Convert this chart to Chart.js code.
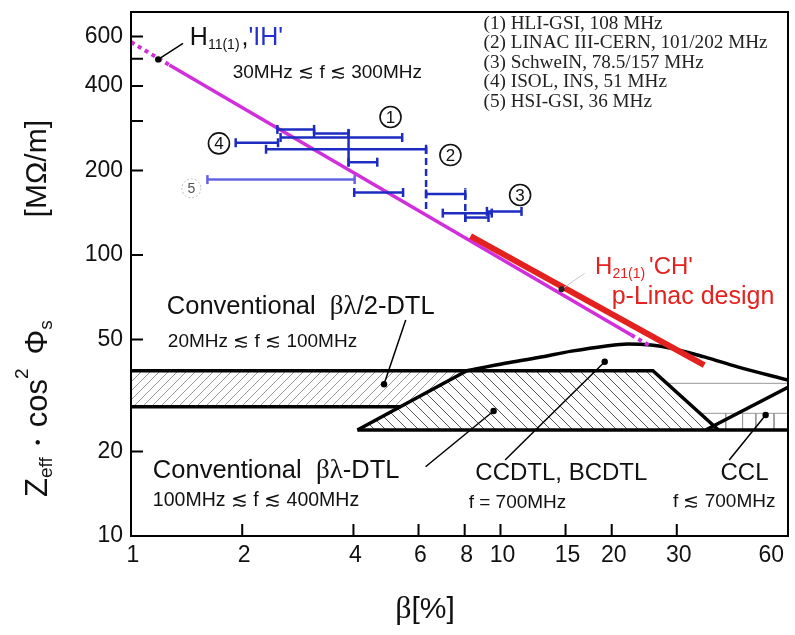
<!DOCTYPE html>
<html>
<head>
<meta charset="utf-8">
<script src="https://cdn.jsdelivr.net/npm/chart.js@4.4.1/dist/chart.umd.min.js"></script>
<style>
  html, body { margin: 0; padding: 0; background: #fff; }
</style>
</head>
<body>
<canvas id="chart" width="795" height="635"></canvas>
<script>
// axis ticks
const xTickValues = [1, 2, 4, 6, 8, 10, 15, 20, 30, 60];
const xTickLabels = ['1', '2', '4', '6', '8', '10', '15', '20', '30', '60'];
const yTickValues = [10, 20, 50, 100, 200, 300, 400, 500, 600];
const yTickLabels = ['10', '20', '50', '100', '200', '', '400', '', '600'];

// H11(1) 'IH' line: dotted start, solid part, dotted end (beta %, Z MOhm/m)
const ihStartBeta = [1.0, 1.27];
const ihStartZ = [573, 475];
const ihBeta = [1.27, 22.6];
const ihZ = [475, 51.9];
const ihEndBeta = [22.6, 25.6];
const ihEndZ = [51.9, 47.2];

// H21(1) 'CH' p-linac design
const chBeta = [8.3, 35.6];
const chZ = [116.8, 40.6];

// existing IH linacs, ranges in beta
const barBetaLo = [2.49, 3.13, 2.54, 1.92, 2.32, 3.88, 4.02, 6.29, 6.98, 8.03, 9.19];
const barBetaHi = [3.13, 3.88, 5.42, 2.50, 6.29, 4.64, 5.45, 8.03, 9.47, 9.28, 11.4];
const barZ      = [280, 271, 262, 251, 238, 214, 167, 165, 141, 136, 143];
const hsiBetaLo = [1.61];
const hsiBetaHi = [4.03];
const hsiZ = [185.6];
// vertical joins between sections
const joinBeta = [3.88, 6.29, 8.03];
const joinZLo = [207, 146, 131];
const joinZHi = [279, 244, 173];
const joinDashed = [false, true, true];

// conventional beta*lambda/2 DTL band
const halfDtlBeta = [1, 8.11, 5.37, 1];
const halfDtlZ = [38.75, 38.75, 28.85, 28.85];
// conventional beta*lambda DTL
const dtlBeta = [4.10, 8.11, 25.85, 38.9];
const dtlZ = [23.84, 38.75, 38.75, 23.84];
// CCDTL / BCDTL envelope
const ccdtlBeta = [8.11, 10.29, 12.66, 15.57, 19.15, 22.13, 25.57, 28.95, 35.63, 43.8, 60];
const ccdtlZ = [38.75, 41.2, 43.2, 45.5, 47.4, 48.2, 47.8, 46.6, 43.4, 40.0, 35.9];
// CCL lower edge and common base line
const cclBeta = [35.9, 60];
const cclZ = [23.84, 33.8];
const baseBeta = [4.10, 60];
const baseZ = [23.84, 23.84];
// CCL hatch
const cclHatchBeta = [[28.2, 60], [34.7, 60], [40.7, 40.7], [45.2, 45.2], [49.1, 49.1], [55.0, 55.0]];
const cclHatchZ = [[34.95, 34.95], [27.33, 27.33], [27.33, 23.84], [27.33, 23.84], [27.33, 23.84], [27.33, 23.84]];

// pointer lines, dot on first point
const leaderBeta = [[1.185, 1.383], [4.84, 5.54], [9.58, 6.27], [19.15, 10.29], [52.2, 41.6]];
const leaderZ = [[497, 567], [34.7, 58.7], [27.85, 17.64], [41.7, 18.64], [26.95, 18.64]];
const chLeaderBeta = [14.63, 16.9];
const chLeaderZ = [75.5, 86.1];

const SANS = '"Liberation Sans", Arial, sans-serif';
const SERIF = '"Liberation Serif", "Times New Roman", serif';
const MAGENTA = '#d22fdc';
const RED = '#e3221f';
const BLUE = '#1c2cc0';

const canvas = document.getElementById('chart');
const ctx0 = canvas.getContext('2d');

function hatch(dir, gap, color) {
  const c = document.createElement('canvas');
  c.width = gap; c.height = gap;
  const g = c.getContext('2d');
  g.strokeStyle = color; g.lineWidth = 1;
  g.beginPath();
  if (dir === '/') {
    g.moveTo(-1, gap + 1); g.lineTo(gap + 1, -1);
  } else {
    g.moveTo(-1, -1); g.lineTo(gap + 1, gap + 1);
  }
  g.stroke();
  return ctx0.createPattern(c, 'repeat');
}

function pts(b, z) { return b.map((v, i) => ({x: v, y: z[i]})); }
function seg(b, z, opts) {
  return Object.assign({
    data: pts(b, z), borderColor: '#000', borderWidth: 3.5, pointRadius: 0,
    fill: false, tension: 0
  }, opts);
}

const datasets = [];
// hatched areas
datasets.push(seg(halfDtlBeta, halfDtlZ, {fill: 'shape', backgroundColor: hatch('/', 9, '#999'), borderColor: 'rgba(0,0,0,0)', borderWidth: 0, order: 20}));
datasets.push(seg(dtlBeta, dtlZ, {fill: 'shape', backgroundColor: hatch('\\', 11, '#555'), borderColor: 'rgba(0,0,0,0)', borderWidth: 0, order: 20}));
cclHatchBeta.forEach((b, i) => datasets.push(seg(b, cclHatchZ[i], {borderColor: '#999', borderWidth: 1, order: 15})));
// outlines
datasets.push(seg([1, 8.11], [38.75, 38.75], {order: 10}));
datasets.push(seg([1, 5.37], [28.85, 28.85], {order: 10}));
datasets.push(seg(dtlBeta, dtlZ, {order: 10}));
datasets.push(seg(baseBeta, baseZ, {order: 10}));
datasets.push(seg(ccdtlBeta, ccdtlZ, {order: 10, cubicInterpolationMode: 'monotone'}));
datasets.push(seg(cclBeta, cclZ, {order: 10}));
// IH and CH lines
datasets.push(seg(ihStartBeta, ihStartZ, {borderColor: MAGENTA, borderWidth: 4, borderDash: [4, 4], order: 4}));
datasets.push(seg(ihBeta, ihZ, {borderColor: MAGENTA, borderWidth: 3.5, order: 4}));
datasets.push(seg(ihEndBeta, ihEndZ, {borderColor: MAGENTA, borderWidth: 4, borderDash: [4, 4], order: 4}));
datasets.push(seg(chBeta, chZ, {borderColor: RED, borderWidth: 6, order: 3}));
// cavity ranges
const capOpts = {pointStyle: 'line', rotation: 90, pointRadius: 4.5, pointBorderWidth: 2.5, borderWidth: 2.5, order: 2};
barZ.forEach((z, i) => datasets.push(seg([barBetaLo[i], barBetaHi[i]], [z, z],
  Object.assign({borderColor: BLUE, pointBorderColor: BLUE}, capOpts))));
hsiZ.forEach((z, i) => datasets.push(seg([hsiBetaLo[i], hsiBetaHi[i]], [z, z],
  Object.assign({borderColor: '#6464e0', pointBorderColor: '#6464e0'}, capOpts))));
joinBeta.forEach((b, i) => datasets.push(seg([b, b], [joinZLo[i], joinZHi[i]],
  {borderColor: BLUE, borderWidth: 2.5, borderDash: joinDashed[i] ? [7, 4] : [], order: 2})));
// pointers
leaderBeta.forEach((b, i) => datasets.push(seg(b, leaderZ[i], {borderWidth: 1.5, pointRadius: [3.2, 0], pointBackgroundColor: '#000', pointBorderWidth: 0, order: 1})));
datasets.push(seg(chLeaderBeta, chLeaderZ, {borderColor: '#c9c9c9', borderWidth: 1, pointRadius: [3, 0], pointBackgroundColor: '#222', pointBorderWidth: 0, order: 1}));

// text notes (placed in data coordinates)
function F(size, fam) { return size + 'px ' + (fam || SANS); }
const notes = [
  {b: 1.443, z: 592, runs: [{t: 'H', f: F(25)}, {t: '11(1)', f: F(14), dy: 7, gap: 2}, {t: ",", f: F(25)}, {t: "'IH'", f: F(25), c: '#2530cc'}]},
  {b: 1.884, z: 444, runs: [{t: '30MHz \u2272 f \u2272 300MHz', f: F(19)}]},
  {b: 18.03, z: 90.6, runs: [{t: 'H', f: F(24), c: RED}, {t: '21(1)', f: F(14), dy: 7, c: RED, gap: 4}, {t: "'CH'", f: F(24), c: RED}]},
  {b: 55.1, z: 71.1, align: 'right', runs: [{t: 'p-Linac design', f: F(25), c: RED}]},
  {b: 1.25, z: 65.5, runs: [{t: 'Conventional  ', f: F(25.5)}, {t: '\u03b2\u03bb', f: F(27, SERIF)}, {t: '/2-DTL', f: F(25.5)}]},
  {b: 1.258, z: 49.1, runs: [{t: '20MHz \u2272 f \u2272 100MHz', f: F(19)}]},
  {b: 1.146, z: 17.03, runs: [{t: 'Conventional  ', f: F(25.5)}, {t: '\u03b2\u03bb', f: F(27, SERIF)}, {t: '-DTL', f: F(25.5)}]},
  {b: 1.146, z: 13.32, runs: [{t: '100MHz \u2272 f \u2272 400MHz', f: F(19.5)}]},
  {b: 8.55, z: 16.75, runs: [{t: 'CCDTL, BCDTL', f: F(24)}]},
  {b: 8.2, z: 13.1, runs: [{t: 'f = 700MHz', f: F(19)}]},
  {b: 39.4, z: 16.75, runs: [{t: 'CCL', f: F(24)}]},
  {b: 55.5, z: 13.2, align: 'right', runs: [{t: 'f \u2272 700MHz', f: F(19)}]}
];
const legendLines = ['(1) HLI-GSI, 108 MHz', '(2) LINAC III-CERN, 101/202 MHz', '(3) SchweIN, 78.5/157 MHz',
  '(4) ISOL, INS, 51 MHz', '(5) HSI-GSI, 36 MHz'];
const circles = [
  {b: 5.04, z: 310, t: '1'}, {b: 7.32, z: 227, t: '2'}, {b: 11.3, z: 163.6, t: '3'},
  {b: 1.73, z: 249.7, t: '4'}, {b: 1.457, z: 172.7, t: '5', faint: true}
];

function drawRuns(ctx, runs, x, y, align) {
  let w = 0;
  runs.forEach(r => { ctx.font = r.f; w += ctx.measureText(r.t).width + (r.gap || 0); });
  let cx = align === 'right' ? x - w : (align === 'center' ? x - w / 2 : x);
  runs.forEach(r => {
    ctx.font = r.f;
    ctx.fillStyle = r.c || '#111';
    ctx.fillText(r.t, cx, y + (r.dy || 0));
    cx += ctx.measureText(r.t).width + (r.gap || 0);
  });
}

const overlay = {
  id: 'overlay',
  afterDatasetsDraw(chart) {
    const {ctx, chartArea: a, scales: {x, y}} = chart;
    ctx.save();
    ctx.strokeStyle = '#000';
    ctx.lineWidth = 2;
    ctx.strokeRect(a.left, a.top, a.right - a.left, a.bottom - a.top);
    // inner ticks
    ctx.beginPath();
    y.ticks.forEach(t => {
      const py = y.getPixelForValue(t.value);
      ctx.moveTo(a.left, py); ctx.lineTo(a.left + 12, py);
    });
    x.ticks.forEach(t => {
      if (t.value <= 1 || t.value >= 60) return;
      const px = x.getPixelForValue(t.value);
      ctx.moveTo(px, a.bottom); ctx.lineTo(px, a.bottom - 12);
    });
    ctx.stroke();
    // tick labels
    ctx.fillStyle = '#111';
    ctx.font = F(23);
    ctx.textBaseline = 'middle';
    ctx.textAlign = 'right';
    y.ticks.forEach(t => {
      const lab = yTickLabels[yTickValues.indexOf(t.value)];
      ctx.fillText(lab, a.left - 8, y.getPixelForValue(t.value));
    });
    x.ticks.forEach(t => {
      const lab = xTickLabels[xTickValues.indexOf(t.value)];
      const px = x.getPixelForValue(t.value);
      if (t.value >= 60) { ctx.textAlign = 'right'; ctx.fillText(lab, a.right - 4, a.bottom + 20); }
      else { ctx.textAlign = 'center'; ctx.fillText(lab, px + 2, a.bottom + 20); }
    });
    // axis titles
    ctx.textAlign = 'left';
    drawRuns(ctx, [{t: '\u03b2', f: F(32, SERIF)}, {t: '[%]', f: F(30)}], 425, 610, 'center');
    ctx.save();
    ctx.translate(38, 497);
    ctx.rotate(-Math.PI / 2);
    drawRuns(ctx, [
      {t: 'Z', f: F(31)}, {t: 'eff', f: F(19), dy: 9, gap: 12},
      {t: '\u2022', f: F(17), gap: 12},
      {t: 'cos', f: F(31)}, {t: '2', f: F(19), dy: -15, gap: 14},
      {t: '\u03a6', f: F(31)}, {t: 's', f: F(19), dy: 9}
    ], 0, 0, 'left');
    drawRuns(ctx, [{t: '[M\u03a9/m]', f: F(30)}], 377, 0, 'right');
    ctx.restore();
    // notes
    notes.forEach(n => drawRuns(ctx, n.runs, x.getPixelForValue(n.b), y.getPixelForValue(n.z), n.align || 'left'));
    // legend box text
    ctx.font = F(19.2, SERIF);
    ctx.fillStyle = '#222';
    const lx = x.getPixelForValue(9.0), ly = y.getPixelForValue(665);
    legendLines.forEach((s, i) => ctx.fillText(s, lx, ly + i * 19.5));
    // circled numbers
    circles.forEach(c => {
      const px = x.getPixelForValue(c.b), py = y.getPixelForValue(c.z);
      ctx.beginPath();
      ctx.arc(px, py, c.faint ? 9.5 : 10.5, 0, Math.PI * 2);
      ctx.fillStyle = '#fff';
      ctx.fill();
      ctx.lineWidth = c.faint ? 1 : 1.6;
      ctx.strokeStyle = c.faint ? '#bbb' : '#111';
      ctx.setLineDash(c.faint ? [2, 2] : []);
      ctx.stroke();
      ctx.setLineDash([]);
      ctx.fillStyle = c.faint ? '#555' : '#111';
      ctx.font = F(c.faint ? 14 : 17);
      ctx.textAlign = 'center';
      ctx.fillText(c.t, px, py + 1);
      ctx.textAlign = 'left';
    });
    ctx.restore();
  }
};

new Chart(canvas, {
  type: 'line',
  data: {datasets: datasets},
  options: {
    responsive: false,
    animation: false,
    layout: {padding: {left: 0, top: 12, right: 4, bottom: 0}},
    plugins: {legend: {display: false}, tooltip: {enabled: false}},
    scales: {
      x: {
        type: 'logarithmic', min: 1, max: 60,
        grid: {display: false}, border: {display: false}, ticks: {display: false},
        afterBuildTicks: s => { s.ticks = xTickValues.map(v => ({value: v})); },
        afterFit: s => { s.height = 99; }
      },
      y: {
        type: 'logarithmic', min: 10, max: 733,
        grid: {display: false}, border: {display: false}, ticks: {display: false},
        afterBuildTicks: s => { s.ticks = yTickValues.map(v => ({value: v})); },
        afterFit: s => { s.width = 131; }
      }
    }
  },
  plugins: [overlay]
});
</script>
</body>
</html>
